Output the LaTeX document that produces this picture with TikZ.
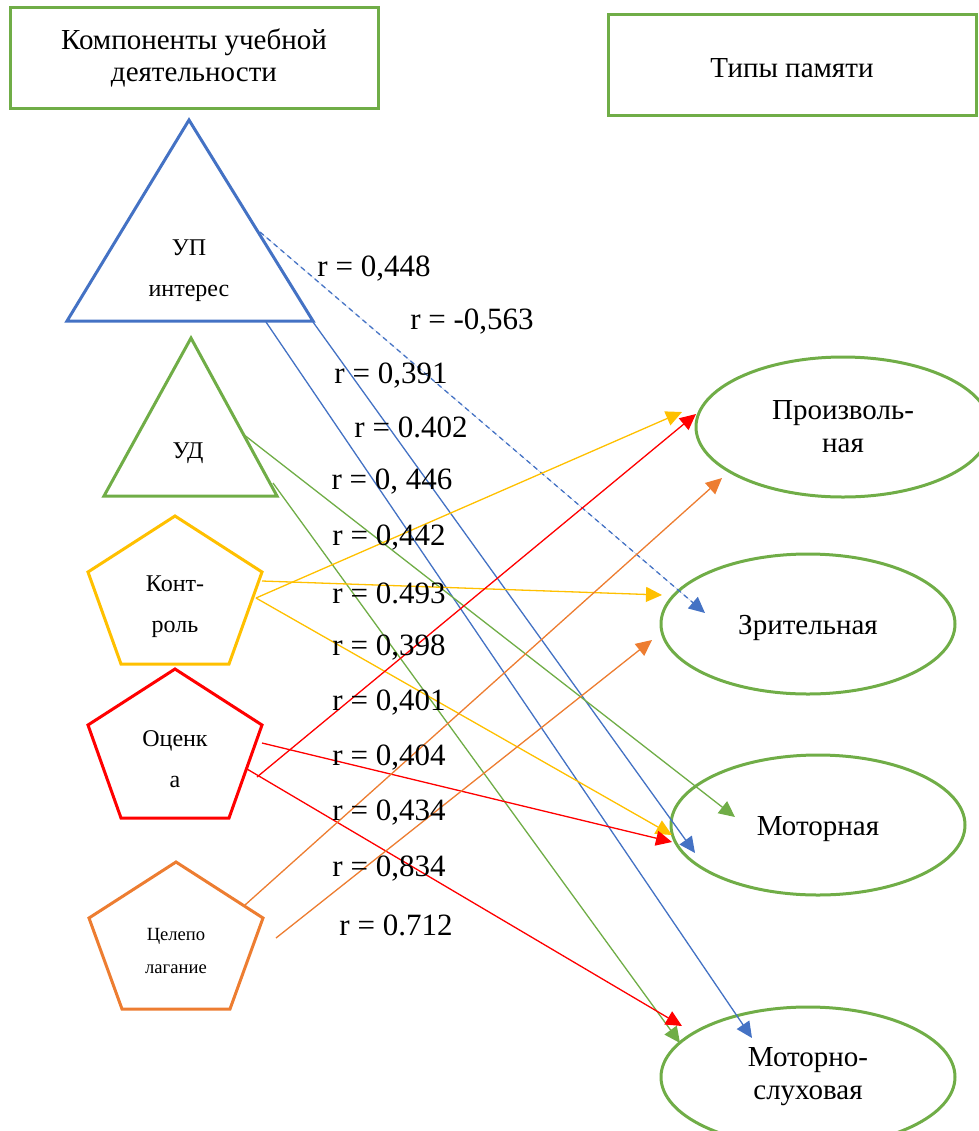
\documentclass[tikz,border=0pt]{standalone}
\usepackage{fontspec}
\setmainfont{Liberation Serif}
\usetikzlibrary{arrows.meta,shapes.geometric}

\definecolor{cblue}{HTML}{4472C4}
\definecolor{cgreen}{HTML}{70AD47}
\definecolor{cyellow}{HTML}{FFC000}
\definecolor{cred}{HTML}{FF0000}
\definecolor{corange}{HTML}{ED7D31}

\begin{document}
\begin{tikzpicture}[
    x=0.5pt, y=-0.5pt,
    >={Triangle[length=8pt,width=7.5pt]},
    every node/.style={align=center},
    header/.style={
        draw=cgreen,
        line width=1.5pt,
        minimum width=184pt,
        minimum height=50.5pt,
        font=\fontsize{14.5}{16}\selectfont
    },
    memory/.style={
        ellipse,
        draw=cgreen,
        line width=1.5pt,
        minimum width=147pt,
        minimum height=70pt,
        font=\fontsize{14.5}{16.5}\selectfont
    },
    figure/.style={
        line width=1.5pt,
        line join=miter
    },
    inlabel/.style={
        font=\fontsize{12}{20.5}\selectfont
    },
    rval/.style={
        font=\fontsize{15.5}{18}\selectfont,
        inner sep=0pt
    },
    link/.style={
        ->,
        line width=0.65pt
    }
]
\useasboundingbox (0,0) rectangle (979,1131);

% headers
\node[header] (comp) at (194,58) {Компоненты учебной\\деятельности};
\node[header, text height=13pt] (types) at (792,65) {Типы памяти};

% components
\draw[figure, draw=cblue] (189,120) -- (313,321) -- (67,321) -- cycle;
\node[inlabel] (up) at (189,271) {УП\\интерес};
\draw[figure, draw=cgreen] (191,338) -- (277,496) -- (104,496) -- cycle;
\node[inlabel] (ud) at (188,453) {УД};
\draw[figure, draw=cyellow] (175,516) -- (262,572) -- (229,664) -- (121,664) -- (88,572) -- cycle;
\node[inlabel] (ctrl) at (175,607) {Конт-\\роль};
\draw[figure, draw=cred] (175,669) -- (262,725) -- (229,818) -- (121,818) -- (88,725) -- cycle;
\node[inlabel] (eval) at (175,759) {Оценк\\а};
\draw[figure, draw=corange] (176,862) -- (263,918) -- (230,1009) -- (122,1009) -- (89,918) -- cycle;
\node[font=\fontsize{9.3}{16.5}\selectfont] (goal) at (176,951) {Целепо\\лагание};

% memory types
\node[memory] (arb) at (843,427) {Произволь-\\ная};
\node[memory, text height=14pt] (vis) at (808,624) {Зрительная};
\node[memory, text height=14pt] (mot) at (818,825) {Моторная};
\node[memory] (aud) at (808,1077) {Моторно-\\слуховая};

% connector ends
\coordinate (up1) at (260,232);
\coordinate (up2) at (266,322);
\coordinate (up3) at (313,322);
\coordinate (ud1) at (243,434);
\coordinate (ud2) at (273,483);
\coordinate (ct1) at (256,598);
\coordinate (ct2) at (262,581);
\coordinate (ev1) at (257,777);
\coordinate (ev2) at (262,743);
\coordinate (ev3) at (247,769);
\coordinate (go1) at (245,905);
\coordinate (go2) at (276,938);

\coordinate (arb1) at (682,412);
\coordinate (arb2) at (696,414);
\coordinate (arb3) at (722,478);
\coordinate (vis1) at (705,613);
\coordinate (vis2) at (662,595);
\coordinate (vis3) at (652,640);
\coordinate (mot1) at (735,817);
\coordinate (mot2) at (672,835);
\coordinate (mot3) at (672,842);
\coordinate (mot4) at (695,853);
\coordinate (aud1) at (682,1026);
\coordinate (aud2) at (680,1043);
\coordinate (aud3) at (752,1038);

\draw[link, draw=cblue, fill=cblue, dash pattern=on 2.5pt off 2pt] (up1) -- (vis1);
\draw[link, draw=cblue, fill=cblue] (up2) -- (aud3);
\draw[link, draw=cblue, fill=cblue] (up3) -- (mot4);
\draw[link, draw=cgreen, fill=cgreen] (ud1) -- (mot1);
\draw[link, draw=cgreen, fill=cgreen] (ud2) -- (aud2);
\draw[link, draw=cyellow, fill=cyellow] (ct1) -- (arb1);
\draw[link, draw=cyellow, fill=cyellow] (ct2) -- (vis2);
\draw[link, draw=cyellow, fill=cyellow] (ct1) -- (mot2);
\draw[link, draw=cred, fill=cred] (ev1) -- (arb2);
\draw[link, draw=cred, fill=cred] (ev2) -- (mot3);
\draw[link, draw=cred, fill=cred] (ev3) -- (aud1);
\draw[link, draw=corange, fill=corange] (go1) -- (arb3);
\draw[link, draw=corange, fill=corange] (go2) -- (vis3);

% coefficients
\node[rval] (r1) at (374,269) {r = 0,448};
\node[rval] (r2) at (472,322) {r = -0,563};
\node[rval] (r3) at (391,376) {r = 0,391};
\node[rval] (r4) at (411,427) {r = 0.402};
\node[rval] (r5) at (392,482) {r = 0, 446};
\node[rval] (r6) at (389,538) {r = 0,442};
\node[rval] (r7) at (389,593) {r = 0.493};
\node[rval] (r8) at (389,648) {r = 0,398};
\node[rval] (r9) at (389,703) {r = 0,401};
\node[rval] (r10) at (389,758) {r = 0,404};
\node[rval] (r11) at (389,813) {r = 0,434};
\node[rval] (r12) at (389,869) {r = 0,834};
\node[rval] (r13) at (396,925) {r = 0.712};
\end{tikzpicture}
\end{document}
